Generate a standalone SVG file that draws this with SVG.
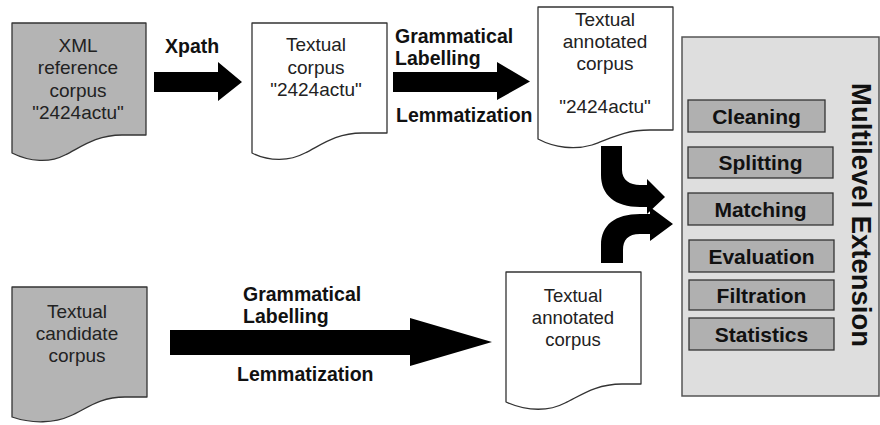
<svg xmlns="http://www.w3.org/2000/svg" width="880" height="425" viewBox="0 0 880 425">
<style>
.doc{stroke:#333;stroke-width:1.3;stroke-linejoin:round}
.gray{fill:#b4b4b4}
.white{fill:#fff}
.dt{font-family:"Liberation Sans",Arial,sans-serif;font-size:19px;fill:#222;text-anchor:middle}
.lbl{font-family:"Liberation Sans",Arial,sans-serif;font-size:19.5px;font-weight:bold;fill:#111}
.step{fill:#b0b0b0;stroke:#333;stroke-width:1.3}
.st{font-family:"Liberation Sans",Arial,sans-serif;font-size:21px;font-weight:bold;fill:#111;text-anchor:middle}
.arrow{fill:#000}
</style>
<rect width="880" height="425" fill="#fff"/>

<g id="xml-reference-corpus">
<path class="doc gray" d="M12,23 H146 V135 H122 C95,135 80,148 65,155 C50,163 30,162 12,153 Z"/>
<text class="dt" x="78" y="52">XML</text>
<text class="dt" x="78" y="74">reference</text>
<text class="dt" x="78" y="97">corpus</text>
<text class="dt" x="78" y="119">"2424actu"</text>
</g>

<g id="textual-corpus">
<path class="doc white" d="M252,23 H387 V133 H362 C335,133 320,146 305,153 C290,161 270,162 252,153 Z"/>
<text class="dt" x="316" y="51">Textual</text>
<text class="dt" x="316" y="73.5">corpus</text>
<text class="dt" x="316" y="96">"2424actu"</text>
</g>

<g id="textual-annotated-corpus-top">
<path class="doc white" d="M538,7 H673 V130 H650 C622,130 608,140 592,145 C575,150 555,148 538,139 Z"/>
<text class="dt" x="605" y="26">Textual</text>
<text class="dt" x="605" y="48">annotated</text>
<text class="dt" x="605" y="70">corpus</text>
<text class="dt" x="605" y="113">"2424actu"</text>
</g>

<g id="textual-candidate-corpus">
<path class="doc gray" d="M12,287 H147 V397 H125 C98,397 85,410 70,416 C55,423 32,424 12,417 Z"/>
<text class="dt" x="77" y="318">Textual</text>
<text class="dt" x="77" y="340">candidate</text>
<text class="dt" x="77" y="362">corpus</text>
</g>

<g id="textual-annotated-corpus-bottom">
<path class="doc white" d="M506,272 H641 V384 H622 C595,384 580,396 565,403 C550,411 528,412 506,402 Z"/>
<text class="dt" x="573" y="302" style="font-size:18.5px">Textual</text>
<text class="dt" x="573" y="324" style="font-size:18.5px">annotated</text>
<text class="dt" x="573" y="346" style="font-size:18.5px">corpus</text>
</g>

<g id="multilevel-extension">
<rect x="682" y="37" width="197" height="359" fill="#dedede" stroke="#555" stroke-width="1.5"/>
<rect class="step" x="688" y="100" width="137" height="32"/>
<text class="st" x="756.5" y="123.5">Cleaning</text>
<rect class="step" x="688" y="147" width="145" height="31"/>
<text class="st" x="760.5" y="170">Splitting</text>
<rect class="step" x="688" y="193" width="145" height="32"/>
<text class="st" x="760.5" y="216.5">Matching</text>
<rect class="step" x="689" y="240" width="145" height="32"/>
<text class="st" x="761.5" y="263.5">Evaluation</text>
<rect class="step" x="689" y="280" width="145" height="30"/>
<text class="st" x="761.5" y="302.5">Filtration</text>
<rect class="step" x="689" y="318" width="145" height="32"/>
<text class="st" x="761.5" y="341.5">Statistics</text>
<text transform="translate(852,215) rotate(90)" text-anchor="middle" textLength="264" lengthAdjust="spacingAndGlyphs" style="font-family:'Liberation Sans',Arial,sans-serif;font-size:28px;font-weight:bold;fill:#111">Multilevel Extension</text>
</g>

<g id="connectors">
<path class="arrow" d="M154,72 H218 V62 L242,82 L218,101 V92 H154 Z"/>
<text class="lbl" x="165" y="53">Xpath</text>

<path class="arrow" d="M393,72 H497 V62 L530,81.5 L497,100 V92 H393 Z"/>
<text class="lbl" x="395" y="43">Grammatical</text>
<text class="lbl" x="395" y="65">Labelling</text>
<text class="lbl" x="396" y="122">Lemmatization</text>

<path class="arrow" d="M170,330 H410 V318 L492,342 L410,366 V355 H170 Z"/>
<text class="lbl" x="243" y="301">Grammatical</text>
<text class="lbl" x="243" y="323">Labelling</text>
<text class="lbl" x="237" y="381">Lemmatization</text>

<path class="arrow" d="M601,146 H622 V170 C622,180 630,185 640,185 H647 V179 L665,197 L647,214 V207 H640 C615,207 601,195 601,175 Z"/>
<path class="arrow" d="M601,263 V245 C601,225 615,214 640,214 H650 V207 L673,224 L650,241 V234 H640 C628,234 623,240 623,250 V263 Z"/>
</g>
</svg>
